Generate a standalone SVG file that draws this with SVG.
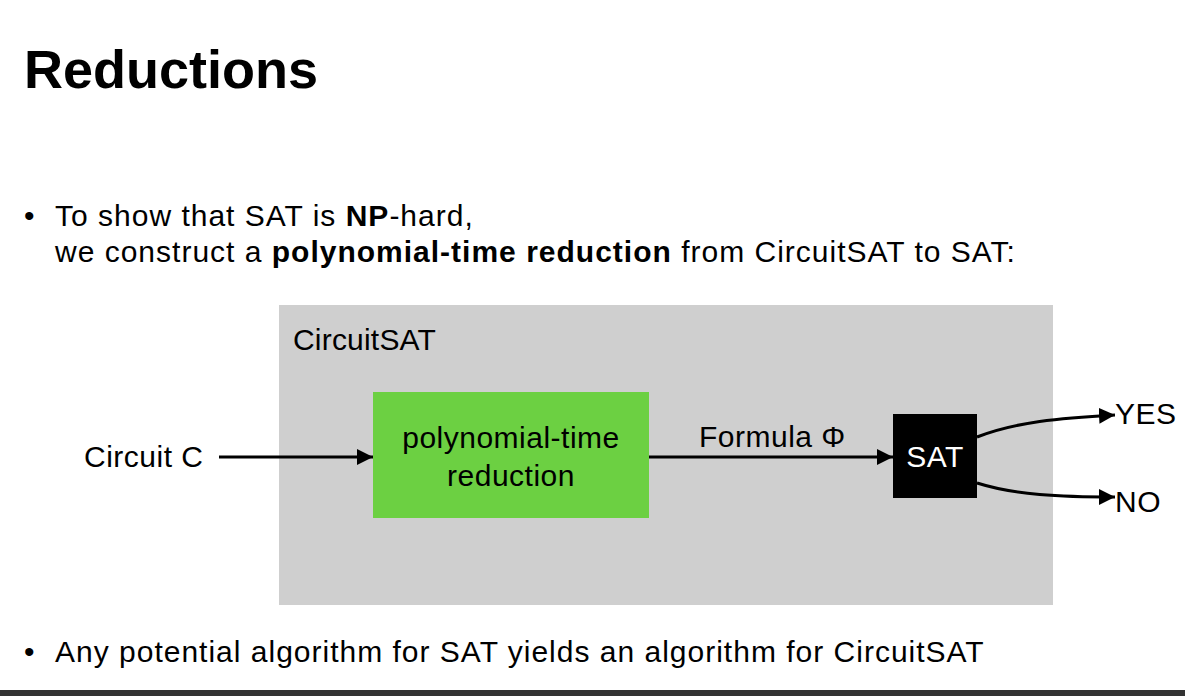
<svg xmlns="http://www.w3.org/2000/svg" width="1185" height="696" viewBox="0 0 1185 696">
<style>
text{font-family:"Liberation Sans",Arial,Helvetica,sans-serif;fill:#000}
.t{font-size:30px;letter-spacing:1px}
.d{font-size:30px;letter-spacing:0.5px}
.b{font-weight:bold}
.line{stroke:#000;stroke-width:3;fill:none}
</style>
<defs>
<marker id="ah" markerUnits="userSpaceOnUse" markerWidth="18" markerHeight="16" refX="16" refY="8" orient="auto">
<path d="M0,0 L16,8 L0,16 Z" fill="#000"/>
</marker>
</defs>
<rect width="1185" height="696" fill="#fff"/>
<text x="24" y="88" font-size="54" class="b">Reductions</text>
<g id="bullets">
<text x="24" y="226" class="t">•</text>
<text x="55" y="226" class="t">To show that SAT is <tspan class="b">NP</tspan>-hard,</text>
<text x="55" y="262" class="t">we construct a <tspan class="b">polynomial-time reduction</tspan> from CircuitSAT to SAT:</text>
<text x="24" y="662" class="t">•</text>
<text x="55" y="662" class="t">Any potential algorithm for SAT yields an algorithm for CircuitSAT</text>
</g>
<g id="circuitsat">
<rect x="279" y="305" width="774" height="300" fill="#cfcfcf"/>
<text x="293" y="350" class="d" style="letter-spacing:0.2px">CircuitSAT</text>
</g>
<g id="input">
<text x="84" y="467" class="d">Circuit C</text>
</g>
<g id="reduction">
<rect x="373" y="392" width="276" height="126" fill="#6cd042"/>
<text x="511" y="448" class="d" text-anchor="middle">polynomial-time</text>
<text x="511" y="486" class="d" text-anchor="middle">reduction</text>
</g>
<g id="sat">
<rect x="893" y="414" width="84" height="84" fill="#000"/>
<text x="935" y="467" class="d" text-anchor="middle" style="fill:#fff">SAT</text>
</g>
<g id="yes"><text x="1115" y="424" class="d">YES</text></g>
<g id="no"><text x="1115" y="512" class="d">NO</text></g>
<g id="connectors">
<line x1="219" y1="457" x2="373" y2="457" class="line" marker-end="url(#ah)"/>
<line x1="649" y1="457" x2="893" y2="457" class="line" marker-end="url(#ah)"/>
<text x="699" y="447" class="d">Formula Φ</text>
<path d="M977,437 C1015,422 1060,418 1115,415" class="line" marker-end="url(#ah)"/>
<path d="M977,483 C1015,495 1060,497 1115,497" class="line" marker-end="url(#ah)"/>
</g>
<rect x="0" y="690" width="1185" height="6" fill="#333"/>
</svg>
